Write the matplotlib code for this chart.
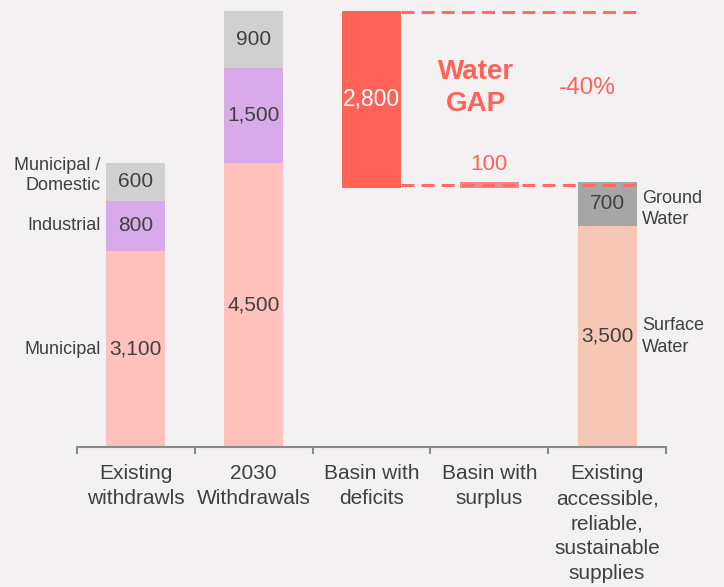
import matplotlib
matplotlib.use("Agg")
import matplotlib.pyplot as plt

plt.rcParams['font.family'] = ['Liberation Sans', 'DejaVu Sans']

categories = ["Existing\nwithdrawls", "2030\nWithdrawals", "Basin with\ndeficits",
              "Basin with\nsurplus", "Existing\naccessible,\nreliable,\nsustainable\nsupplies"]
seg_names = ["Municipal", "Industrial", "Municipal /\nDomestic"]
existing = [3100, 800, 600]
withdrawals_2030 = [4500, 1500, 900]
deficit = 2800
surplus = 100
supply_names = ["Surface\nWater", "Ground\nWater"]
supplies = [3500, 700]
gap_pct = "-40%"

BG = "#F4F1F2"
TXT = "#404040"
RED = "#FF6257"
seg_colors = ["#FFC1BB", "#D8AAE9", "#D0D0D0"]
supply_colors = ["#F6C7B5", "#A6A6A6"]

fig = plt.figure(figsize=(7.24, 5.87), dpi=100, facecolor=BG)
ax = fig.add_axes([0.1064, 0.2385, 0.8135, 0.753])
ax.set_facecolor(BG)
ax.set_xlim(-0.5, 4.5)
ax.set_ylim(0, 7000)
W = 0.5

def fmt(v):
    return f"{v:,}"

# stacked bars 1 and 2
for i, vals in enumerate([existing, withdrawals_2030]):
    b = 0
    for v, c in zip(vals, seg_colors):
        ax.bar(i, v, width=W, bottom=b, color=c, zorder=2)
        ax.text(i, b + v / 2, fmt(v), ha='center', va='center', fontsize=15, color=TXT, zorder=4)
        b += v

# left side labels for first bar
b = 0
for k, (v, n) in enumerate(zip(existing, seg_names)):
    y = b + v / 2 + (100 if k == 2 else 0)
    ax.text(-0.30, y, n, ha='right', va='center', fontsize=13, color=TXT, linespacing=1.25)
    b += v

total_2030 = sum(withdrawals_2030)
total_supply = sum(supplies)

# deficit bar
def_bottom = total_2030 - deficit
ax.bar(2, deficit, width=W, bottom=def_bottom, color=RED, zorder=2)
ax.text(2, def_bottom + deficit / 2, fmt(deficit), ha='center', va='center', fontsize=16.5,
        color='white', zorder=4)

# surplus bar
ax.bar(3, surplus, width=W, bottom=total_supply - surplus, color="#F28A8C", zorder=2)
ax.text(3, total_supply + 280, fmt(surplus), ha='center', va='center', fontsize=16, color=RED)

# supply bar
b = 0
for v, c, n in zip(supplies, supply_colors, supply_names):
    ax.bar(4, v, width=W, bottom=b, color=c, zorder=2)
    ax.text(4, b + v / 2, fmt(v), ha='center', va='center', fontsize=15, color=TXT, zorder=4)
    b += v
ax.text(4.295, supplies[0] / 2, supply_names[0], ha='left', va='center', fontsize=13, color=TXT,
        linespacing=1.33)
ax.text(4.295, supplies[0] + supplies[1] / 2 - 80, supply_names[1], ha='left', va='center',
        fontsize=13, color=TXT, linespacing=1.33)

# dashed gap lines
ls = (0, (4.2, 2.4))
ax.plot([2 + W / 2, 4.25], [total_2030 - 10, total_2030 - 10], color="#FF6B61", lw=2.2,
        linestyle=ls, zorder=3)
ax.plot([2 + W / 2, 4.25], [total_supply - 50, total_supply - 50], color="#FF6B61", lw=2.2,
        linestyle=ls, zorder=3)

ax.text(2.887, 5690, "Water\nGAP", ha='center', va='center', fontsize=20, fontweight='bold',
        color=RED, linespacing=1.3)
ax.text(3.83, 5680, gap_pct, ha='center', va='center', fontsize=17.5, color=RED)

# axes styling
for s in ['top', 'right', 'left']:
    ax.spines[s].set_visible(False)
ax.spines['bottom'].set_color('#8A8A8A')
ax.spines['bottom'].set_linewidth(1.5)
ax.set_yticks([])
ax.set_xticks([i - 0.5 for i in range(6)])
ax.set_xticklabels([])
ax.tick_params(axis='x', which='major', length=5, width=1.5, color='#8A8A8A', direction='out')
ax.set_xticks(range(5), minor=True)
ax.set_xticklabels(categories, minor=True, fontsize=15, color=TXT, linespacing=1.39)
ax.tick_params(axis='x', which='minor', length=0, pad=12.5)

fig.savefig("out.png", dpi=100, facecolor=BG)
